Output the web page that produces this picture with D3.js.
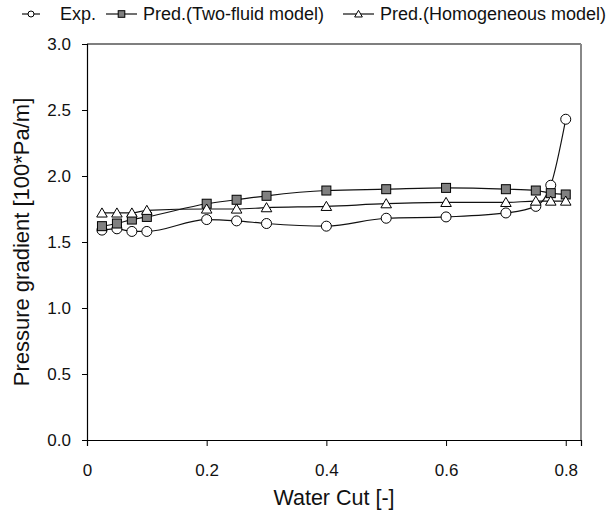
<!DOCTYPE html>
<html><head><meta charset="utf-8">
<script src="https://cdn.jsdelivr.net/npm/d3@7"></script>
<style>body{margin:0;background:#fff}svg{display:block;font-family:"Liberation Sans",Arial,sans-serif}</style>
</head><body>
<script>
const waterCut = [0.025,0.05,0.075,0.1,0.2,0.25,0.3,0.4,0.5,0.6,0.7,0.75,0.775,0.8];
const expVals  = [1.59,1.60,1.58,1.58,1.67,1.66,1.64,1.62,1.68,1.69,1.72,1.77,1.93,2.43];
const twoFluid = [1.62,1.64,1.67,1.69,1.79,1.82,1.85,1.89,1.90,1.91,1.90,1.89,1.87,1.86];
const homogeneous = [1.72,1.72,1.72,1.74,1.75,1.75,1.76,1.77,1.79,1.80,1.80,1.81,1.81,1.81];
const xTicks = [0,0.2,0.4,0.6,0.8];
const yTicks = [0,0.5,1.0,1.5,2.0,2.5,3.0];
const seriesNames = ["Exp.","Pred.(Two-fluid model)","Pred.(Homogeneous model)"];

const W=613,H=510;
const svg=d3.select("body").append("svg").attr("width",W).attr("height",H);
const x=d3.scaleLinear().domain([0,0.8255]).range([87,581]);
const y=d3.scaleLinear().domain([0,3]).range([440,44]);

// frame
svg.append("line").attr("x1",87).attr("x2",581).attr("y1",44).attr("y2",44).attr("stroke","#000").attr("stroke-width",1.2);
svg.append("line").attr("x1",581).attr("x2",581).attr("y1",44).attr("y2",440).attr("stroke","#888").attr("stroke-width",2);

const xAxis=svg.append("g").attr("transform","translate(0,440)")
  .call(d3.axisBottom(x).tickValues(xTicks).tickSize(6).tickPadding(18).tickFormat(d=>d===0?"0":d3.format(".1f")(d)));
const yAxis=svg.append("g").attr("transform","translate(87,0)")
  .call(d3.axisLeft(y).tickValues(yTicks).tickSize(5).tickPadding(11).tickFormat(d3.format(".1f")));
[xAxis,yAxis].forEach(g=>{
  g.select(".domain").attr("stroke","#000").attr("stroke-width",1.2);
  g.selectAll(".tick line").attr("stroke","#000");
  g.selectAll("text").attr("font-family","Liberation Sans, Arial, sans-serif").attr("font-size",17).attr("fill","#111");
});

svg.append("text").attr("x",334).attr("y",505).attr("text-anchor","middle").attr("font-size",21.5).attr("fill","#111").text("Water Cut [-]");
svg.append("text").attr("transform","translate(29,242) rotate(-90)").attr("text-anchor","middle").attr("font-size",22).attr("fill","#111").text("Pressure gradient [100*Pa/m]");

const line=d3.line().x(d=>x(d[0])).y(d=>y(d[1])).curve(d3.curveMonotoneX);
function marker(g,type,size){
  if(type==="circle") return g.append("circle").attr("r",size).attr("fill","#fff").attr("stroke","#000");
  if(type==="square") return g.append("rect").attr("x",-size).attr("y",-size).attr("width",2*size).attr("height",2*size).attr("fill","#808080").attr("stroke","#000");
  const s=size; return g.append("path").attr("d",`M0,${-s*1.05}L${s*1.1},${s*0.85}L${-s*1.1},${s*0.85}Z`).attr("fill","#fff").attr("stroke","#000");
}
const series=[{v:expVals,t:"circle",s:5},{v:twoFluid,t:"square",s:4.5},{v:homogeneous,t:"triangle",s:4.8}];
series.forEach(sr=>{
  const pts=waterCut.map((w,i)=>[w,sr.v[i]]);
  svg.append("path").attr("d",line(pts)).attr("fill","none").attr("stroke","#111").attr("stroke-width",1.2);
  pts.forEach(p=>{marker(svg.append("g").attr("transform",`translate(${x(p[0])},${y(p[1])})`),sr.t,sr.s).attr("stroke-width",1);});
});

// legend
const leg=[{x1:22,x2:40,tx:60,t:"circle",s:3},{x1:106,x2:137,tx:143,t:"square",s:3.3},{x1:343,x2:374,tx:380,t:"triangle",s:3.5}];
leg.forEach((l,i)=>{
  svg.append("line").attr("x1",l.x1).attr("x2",l.x2).attr("y1",14).attr("y2",14).attr("stroke","#111").attr("stroke-width",1.2);
  marker(svg.append("g").attr("transform",`translate(${(l.x1+l.x2)/2},14)`),l.t,l.s).attr("stroke-width",1);
  svg.append("text").attr("x",l.tx).attr("y",20).attr("font-size",18).attr("fill","#111").text(seriesNames[i]);
});
</script>
</body></html>
